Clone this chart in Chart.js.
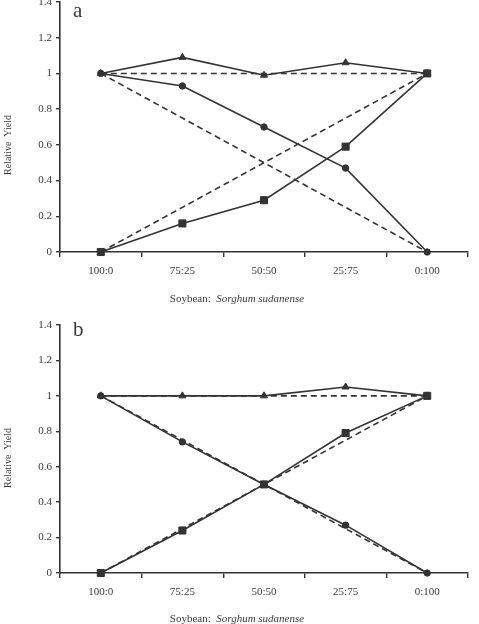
<!DOCTYPE html>
<html>
<head>
<meta charset="utf-8">
<script src="https://cdn.jsdelivr.net/npm/chart.js@4/dist/chart.umd.min.js"></script>
<style>
  html, body { margin: 0; padding: 0; background: #fff; }
  #wrap { position: relative; width: 479px; height: 624px; overflow: hidden; background: #fff; }
  #wrap canvas { position: absolute; left: 0; }
</style>
</head>
<body>
<div id="wrap">
  <canvas id="ca" width="479" height="322" style="top:-10px"></canvas>
  <canvas id="cb" width="479" height="312" style="top:312px"></canvas>
</div>
<script>
// ---- data ----
const categories = ['100:0', '75:25', '50:50', '25:75', '0:100'];
const yTicks = [0, 0.2, 0.4, 0.6, 0.8, 1, 1.2, 1.4];

const expectedTotal = [1, 1, 1, 1, 1];
const expectedSoybean = [1, 0.75, 0.5, 0.25, 0];
const expectedSorghum = [0, 0.25, 0.5, 0.75, 1];

const aTotal = [1, 1.09, 0.99, 1.06, 1];
const aSoybean = [1, 0.93, 0.70, 0.47, 0];
const aSorghum = [0, 0.16, 0.29, 0.59, 1];

const bTotal = [1, 1.0, 1.0, 1.05, 1];
const bSoybean = [1, 0.74, 0.50, 0.27, 0];
const bSorghum = [0, 0.24, 0.50, 0.79, 1];

const panelLabels = ['a', 'b'];
const yTitle = 'Relative  Yield';
const xTitleNormal = 'Soybean:  ';
const xTitleItalic = 'Sorghum sudanense';

// ---- styling ----
const INK = '#333333';
const TXT = '#3a3a3a';
const SERIF = '"Liberation Serif", "Times New Roman", serif';

function dashed(data) {
  return { data, borderColor: INK, borderWidth: 1.6, borderDash: [6, 4],
    pointRadius: 0, pointHoverRadius: 0, fill: false, tension: 0, clip: false };
}
function solid(data, style, r) {
  return { data, borderColor: INK, borderWidth: 1.6, pointStyle: style,
    pointRadius: r, pointHoverRadius: r, pointBackgroundColor: INK,
    pointBorderColor: INK, pointBorderWidth: 1, fill: false, tension: 0, clip: false };
}

const annot = {
  id: 'annot',
  afterDraw(chart, args, opts) {
    const { ctx, chartArea } = chart;
    ctx.save();
    ctx.fillStyle = TXT;
    // panel letter
    ctx.font = '21px ' + SERIF;
    ctx.textAlign = 'left';
    ctx.textBaseline = 'alphabetic';
    ctx.fillText(opts.letter, chartArea.left + 13, chartArea.top + opts.letterDy);
    // y title
    ctx.save();
    ctx.font = '10px ' + SERIF;
    ctx.translate(8, (chartArea.top + chartArea.bottom) / 2 + opts.yTitleDy);
    ctx.rotate(-Math.PI / 2);
    ctx.textAlign = 'center';
    ctx.textBaseline = 'middle';
    ctx.fillText(yTitle, 0, 0);
    ctx.restore();
    // x title
    ctx.font = '11px ' + SERIF;
    const w1 = ctx.measureText(xTitleNormal).width;
    ctx.font = 'italic 11px ' + SERIF;
    const w2 = ctx.measureText(xTitleItalic).width;
    const x0 = 237 - (w1 + w2) / 2;
    const yb = chartArea.bottom + opts.xTitleDy;
    ctx.font = '11px ' + SERIF;
    ctx.fillText(xTitleNormal, x0, yb);
    ctx.font = 'italic 11px ' + SERIF;
    ctx.fillText(xTitleItalic, x0 + w1, yb);
    ctx.restore();
  }
};

function makeChart(id, total, soy, sorg, letter, pad, letterDy, yTitleDy, xTitleDy) {
  return new Chart(document.getElementById(id), {
    type: 'line',
    data: {
      labels: categories,
      datasets: [
        dashed(expectedTotal),
        dashed(expectedSoybean),
        dashed(expectedSorghum),
        solid(total, 'triangle', 4),
        solid(soy, 'circle', 3.2),
        solid(sorg, 'rect', 5)
      ]
    },
    options: {
      responsive: false,
      animation: false,
      devicePixelRatio: 1,
      layout: { padding: pad },
      plugins: {
        legend: { display: false },
        tooltip: { enabled: false },
        annot: { letter, letterDy, yTitleDy, xTitleDy }
      },
      scales: {
        x: {
          type: 'category',
          offset: true,
          afterFit(s) { s.height = 32; },
          grid: { display: true, drawOnChartArea: false, drawTicks: true, tickLength: 5,
            color: INK, lineWidth: 1.4, offset: true },
          border: { display: true, color: INK, width: 1.6 },
          ticks: { color: TXT, font: { family: SERIF, size: 11 }, padding: 8, maxRotation: 0 }
        },
        y: {
          min: 0, max: 1.4,
          afterFit(s) { s.width = 56; },
          afterBuildTicks(s) { s.ticks = yTicks.map(v => ({ value: v })); },
          grid: { display: true, drawOnChartArea: false, drawTicks: true, tickLength: 4,
            color: INK, lineWidth: 1.4 },
          border: { display: true, color: INK, width: 1.6 },
          ticks: { color: TXT, font: { family: SERIF, size: 11 }, padding: 4,
            callback: v => String(+(+v).toFixed(1)) }
        }
      }
    },
    plugins: [annot]
  });
}

makeChart('ca', aTotal, aSoybean, aSorghum, panelLabels[0],
  { top: 12, left: 4, right: 11, bottom: 28 }, 15, 18, 50);
makeChart('cb', bTotal, bSoybean, bSorghum, panelLabels[1],
  { top: 13, left: 4, right: 11, bottom: 19 }, 11, 9, 49);
</script>
</body>
</html>
